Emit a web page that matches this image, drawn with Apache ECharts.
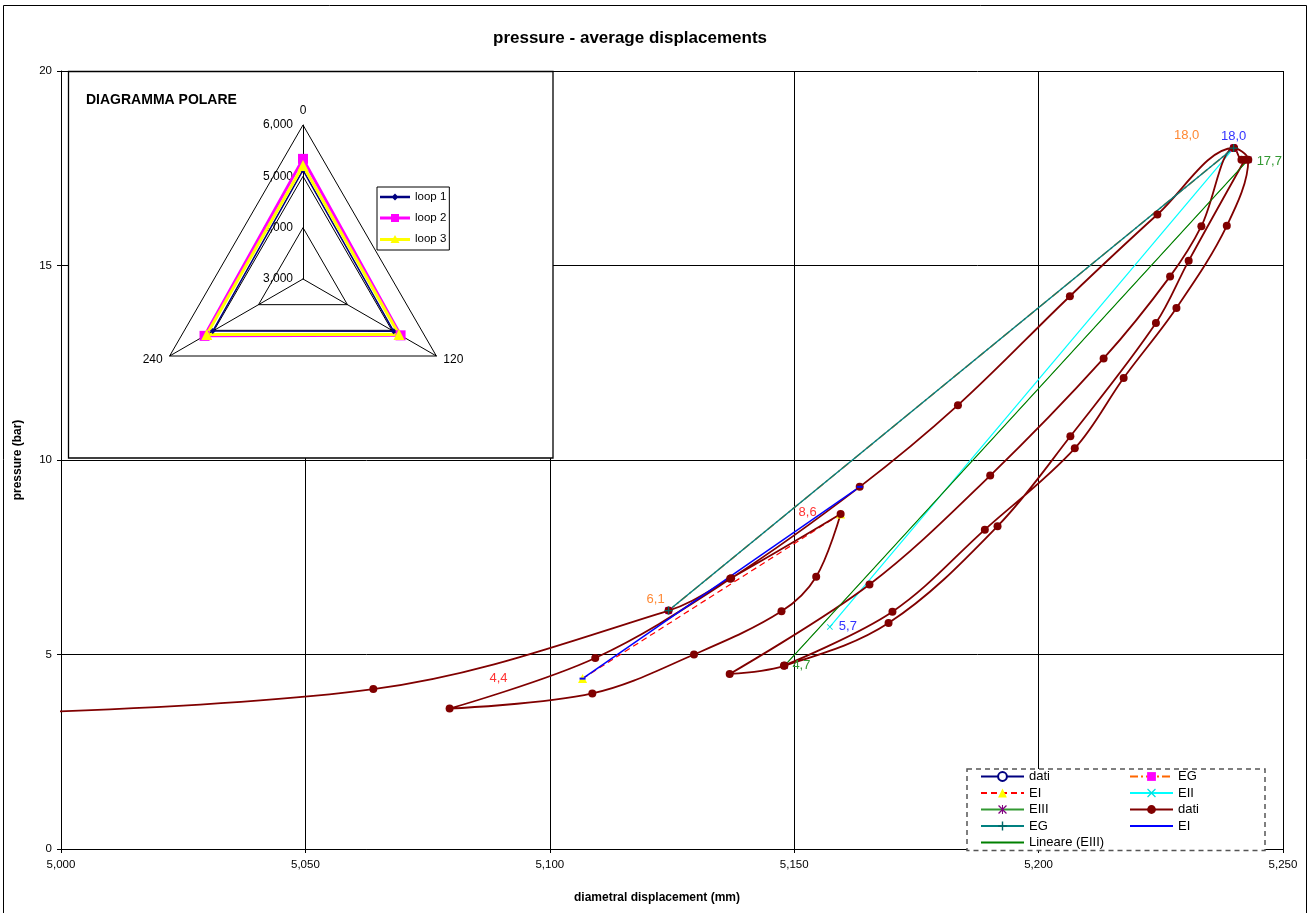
<!DOCTYPE html>
<html>
<head>
<meta charset="utf-8">
<title>pressure - average displacements</title>
<script src="https://cdn.jsdelivr.net/npm/echarts@6/dist/echarts.min.js"></script>
<style>
  html, body { margin: 0; padding: 0; background: #fff; }
  #chart { width: 1310px; height: 913px; }
</style>
</head>
<body>
<div id="chart"></div>
<script>
  // axis ticks
  var xTicks = [5000, 5050, 5100, 5150, 5200, 5250];
  var yTicks = [0, 5, 10, 15, 20];

  // measured curve: [diametral displacement (mm), pressure (bar)]
  var datiPoints = [
    [4960.0, 3.40], [5063.9, 4.11], [5124.3, 6.13], [5136.9, 6.95], [5159.5, 8.61],
    [5154.5, 7.00], [5147.4, 6.11], [5129.5, 5.00], [5108.7, 4.00], [5079.5, 3.61],
    [5109.3, 4.91], [5137.1, 6.96], [5163.4, 9.31], [5183.5, 11.41], [5206.4, 14.21],
    [5224.3, 16.31], [5239.9, 18.02], [5241.5, 17.72], [5242.2, 17.72],
    [5230.7, 15.12], [5224.0, 13.52], [5206.5, 10.61], [5191.6, 8.30], [5169.3, 5.81],
    [5147.9, 4.71], [5136.8, 4.50],
    [5165.4, 6.80], [5190.1, 9.60], [5213.3, 12.61], [5226.9, 14.72], [5233.3, 16.01],
    [5240.0, 18.02], [5242.9, 17.72],
    [5238.5, 16.02], [5228.2, 13.91], [5217.4, 12.11], [5207.4, 10.30], [5189.0, 8.21],
    [5170.1, 6.10], [5148.0, 4.72]
  ];
  // moduli segments
  var egPoints = [[5124.3, 6.13], [5239.9, 18.02]];
  var eiPoints = [[5106.7, 4.38], [5159.5, 8.61]];
  var eiiPoints = [[5157.3, 5.71], [5239.9, 18.02]];
  var eiiiPoints = [[5148.0, 4.71], [5242.9, 17.72]];
  var eiBluePoints = [[5106.7, 4.38], [5163.4, 9.31]];

  // polar diagram
  var polarAngles = ['0', '240', '120'];
  var polarTicks = [3000, 4000, 5000, 6000];
  var loop1 = [5120, 5030, 5040];
  var loop2 = [5340, 5215, 5195];
  var loop3 = [5210, 5165, 5160];

  // label offsets (px) from the point
  var egLabelOffsets = [[-13, -11], [-47, -13]];
  var eiLabelOffsets = [[-84, 0], [-33, -2]];
  var eiiLabelOffsets = [[18, 0], [0, -12]];
  var eiiiLabelOffsets = [[17, 0], [21, 2]];

  var font = 'Liberation Sans, Arial, sans-serif';
  var symX = 'path://M0,1L1,0L5,4L9,0L10,1L6,5L10,9L9,10L5,6L1,10L0,9L4,5Z';
  var symPlus = 'path://M4.2,0H5.8V4.2H10V5.8H5.8V10H4.2V5.8H0V4.2H4.2Z';
  var symStar = 'path://M0,1L1,0L5,4L9,0L10,1L6,5L10,9L9,10L5,6L1,10L0,9L4,5Z M4.4,0H5.6V10H4.4Z';

  function commaFmt(p) {
    return p.value[1].toFixed(1).replace('.', ',');
  }
  function withOffsets(points, offsets) {
    return points.map(function (p, i) {
      return { value: p, label: { offset: offsets[i] } };
    });
  }
  function pointLabel(color) {
    return { show: true, position: 'inside', formatter: commaFmt, color: color, fontSize: 13, fontFamily: font };
  }

  var chart = echarts.init(document.getElementById('chart'));
  var option = {
    animation: false,
    backgroundColor: '#fff',
    title: [{
      text: 'pressure - average displacements',
      left: 493, top: 30, padding: 0,
      textStyle: { fontSize: 17, fontWeight: 'bold', fontFamily: font, color: '#000' }
    }, {
      text: 'DIAGRAMMA POLARE',
      left: 86, top: 93, padding: 0, zlevel: 1, z: 5,
      textStyle: { fontSize: 14, fontWeight: 'bold', fontFamily: font, color: '#000' }
    }],
    graphic: [
      { type: 'rect', silent: true, z: 0, shape: { x: 3.5, y: 5.5, width: 1303, height: 920 },
        style: { fill: null, stroke: '#000', lineWidth: 1 } },
      { type: 'rect', silent: true, zlevel: 1, z: 0, shape: { x: 68.5, y: 71.5, width: 484.5, height: 386.5 },
        style: { fill: '#fff', stroke: '#000', lineWidth: 1.3 } },
      { type: 'rect', silent: true, zlevel: 1, z: 0, shape: { x: 967, y: 769, width: 298, height: 81.5 },
        style: { fill: '#fff', stroke: '#555', lineWidth: 1.5, lineDash: [5, 4] } }
    ],
    legend: [{
      data: ['dati', 'EI', 'EIII', 'EG ', 'Lineare (EIII)'].map(function (n) {
        return n === 'Lineare (EIII)' ? { name: n, itemStyle: { opacity: 0 } } : n;
      }),
      orient: 'vertical', left: 980, top: 770, padding: 0,
      itemWidth: 43, itemHeight: 11, itemGap: 3.5, selectedMode: false,
      zlevel: 1, z: 4,
      textStyle: { fontSize: 13, fontFamily: font, color: '#000' }
    }, {
      data: ['EG', 'EII', 'dati ', { name: 'EI ', itemStyle: { opacity: 0 } }],
      orient: 'vertical', left: 1129, top: 770, padding: 0,
      itemWidth: 43, itemHeight: 11, itemGap: 3.5, selectedMode: false,
      zlevel: 1, z: 4,
      textStyle: { fontSize: 13, fontFamily: font, color: '#000' }
    }, {
      data: [
        { name: 'loop 1', icon: 'path://M0,3.8H30V6.2H0Z M15,1.5L18.5,5L15,8.5L11.5,5Z' },
        { name: 'loop 2', icon: 'path://M0,3.5H30V6.5H0Z M11,1H19V9H11Z' },
        { name: 'loop 3', icon: 'path://M0,3.5H30V6.5H0Z M15,0.5L19.5,8.5H10.5Z' }
      ],
      orient: 'vertical', left: 377, top: 187, padding: [4, 3, 5, 3],
      itemWidth: 30, itemHeight: 10, itemGap: 9, selectedMode: false,
      backgroundColor: '#fff', borderColor: '#000', borderWidth: 1,
      zlevel: 1, z: 4,
      textStyle: { fontSize: 11.5, fontFamily: font, color: '#000' }
    }],
    grid: { left: 61, top: 71, width: 1222, height: 778 },
    xAxis: {
      type: 'value',
      min: xTicks[0], max: xTicks[xTicks.length - 1], interval: xTicks[1] - xTicks[0],
      name: 'diametral displacement (mm)', nameLocation: 'middle', nameGap: 43,
      nameTextStyle: { fontWeight: 'bold', fontSize: 12, fontFamily: font, color: '#000', padding: [0, 30, 0, 0] },
      axisLine: { show: true, onZero: false, lineStyle: { color: '#000', width: 1 } },
      axisTick: { show: true, length: 4, lineStyle: { color: '#000' } },
      axisLabel: { color: '#000', fontSize: 11.5, fontFamily: font, margin: 10,
        formatter: function (v) { return v.toLocaleString('en-US'); } },
      splitLine: { show: true, lineStyle: { color: '#000', width: 1 } }
    },
    yAxis: {
      type: 'value',
      min: yTicks[0], max: yTicks[yTicks.length - 1], interval: yTicks[1] - yTicks[0],
      name: 'pressure (bar)', nameLocation: 'middle', nameGap: 37,
      nameTextStyle: { fontWeight: 'bold', fontSize: 12, fontFamily: font, color: '#000' },
      axisLine: { show: true, lineStyle: { color: '#000', width: 1 } },
      axisTick: { show: true, length: 4, lineStyle: { color: '#000' } },
      axisLabel: { color: '#000', fontSize: 11.5, fontFamily: font, margin: 9 },
      splitLine: { show: true, lineStyle: { color: '#000', width: 1 } }
    },
    radar: {
      center: [303, 279], radius: 154, startAngle: 90, shape: 'polygon', splitNumber: 3,
      zlevel: 1, z: 2,
      indicator: polarAngles.map(function (a, i) {
        var ind = { name: a, min: polarTicks[0], max: polarTicks[polarTicks.length - 1] };
        if (i > 0) ind.axisLabel = { show: false };
        return ind;
      }),
      axisName: { color: '#000', fontSize: 12, fontFamily: font },
      nameGap: 8,
      axisLine: { lineStyle: { color: '#000', width: 1 } },
      splitLine: { lineStyle: { color: '#000', width: 1 } },
      splitArea: { show: false },
      axisTick: { show: false },
      axisLabel: { show: true, color: '#000', fontSize: 12, fontFamily: font, margin: 10,
        formatter: function (v) { return v.toLocaleString('en-US'); } }
    },
    series: [{
      name: 'dati', type: 'line', data: [],
      symbol: 'emptyCircle', symbolSize: 7,
      lineStyle: { color: '#000080', width: 1 }, itemStyle: { color: '#000080' }
    }, {
      name: 'EG', type: 'line', data: withOffsets(egPoints, egLabelOffsets),
      symbol: 'rect', symbolSize: 7,
      lineStyle: { color: '#ff6600', width: 1.5, type: [8, 3, 2, 3] },
      itemStyle: { color: '#ff00ff' },
      label: pointLabel('#ff8833')
    }, {
      name: 'EI', type: 'line', data: withOffsets(eiPoints, eiLabelOffsets),
      symbol: 'triangle', symbolSize: 9,
      lineStyle: { color: '#ff0000', width: 1.2, type: [6, 4] },
      itemStyle: { color: '#ffff00' },
      label: pointLabel('#ff3333')
    }, {
      name: 'EII', type: 'line', data: withOffsets(eiiPoints, eiiLabelOffsets),
      symbol: symX, symbolSize: 6,
      lineStyle: { color: '#00ffff', width: 1.2 },
      itemStyle: { color: '#00dddd' },
      label: pointLabel('#3333ff')
    }, {
      name: 'EIII', type: 'line', data: withOffsets(eiiiPoints, eiiiLabelOffsets),
      symbol: symStar, symbolSize: 7,
      lineStyle: { color: '#339933', width: 1.2 },
      itemStyle: { color: '#800080' },
      label: pointLabel('#339933')
    }, {
      name: 'dati ', type: 'line', data: datiPoints,
      smooth: 0.35, symbol: 'circle', symbolSize: 8,
      lineStyle: { color: '#800000', width: 1.8 },
      itemStyle: { color: '#800000' }
    }, {
      name: 'EG ', type: 'line', data: egPoints,
      symbol: symPlus, symbolSize: 8,
      lineStyle: { color: '#008080', width: 1.5 },
      itemStyle: { color: '#006666' }
    }, {
      name: 'EI ', type: 'line', data: eiBluePoints,
      symbol: 'rect', symbolSize: [6, 2],
      lineStyle: { color: '#0000ff', width: 1.5 },
      itemStyle: { color: '#0000ff' }
    }, {
      name: 'Lineare (EIII)', type: 'line', data: eiiiPoints,
      symbol: 'none',
      lineStyle: { color: '#008000', width: 1 },
      itemStyle: { color: '#008000' }
    }, {
      type: 'radar', zlevel: 1, z: 3,
      data: [{
        name: 'loop 1', value: loop1, symbol: 'diamond', symbolSize: 6,
        lineStyle: { color: '#000080', width: 1.5 }, itemStyle: { color: '#000080' }
      }, {
        name: 'loop 2', value: loop2, symbol: 'rect', symbolSize: 10,
        lineStyle: { color: '#ff00ff', width: 3 }, itemStyle: { color: '#ff00ff' }
      }, {
        name: 'loop 3', value: loop3, symbol: 'triangle', symbolSize: 11,
        lineStyle: { color: '#ffff00', width: 3 }, itemStyle: { color: '#ffff00' }
      }]
    }]
  };
  chart.setOption(option);
</script>
</body>
</html>
